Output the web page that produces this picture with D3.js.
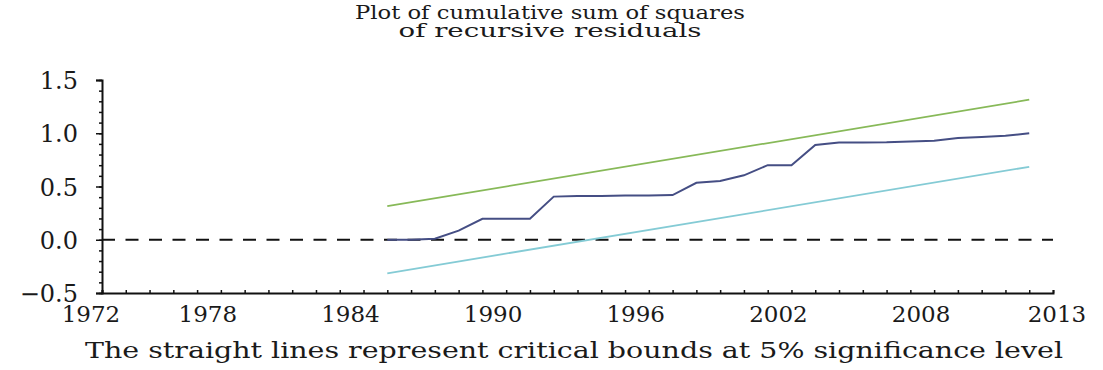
<!DOCTYPE html>
<html>
<head>
<meta charset="utf-8">
<script src="https://cdn.jsdelivr.net/npm/d3@7"></script>
<style>
  html, body { margin: 0; padding: 0; background: #fff; }
  svg { display: block; }
  svg text, svg tspan { font-family: "DejaVu Serif", "Liberation Serif", serif; fill: #1a1a1a; }
</style>
</head>
<body>
<svg id="chart" width="1103" height="370"></svg>
<script>
// CUSUM of squares of recursive residuals, annual observations
const years = [1986, 1987, 1988, 1989, 1990, 1991, 1992, 1993, 1994, 1995,
               1996, 1997, 1998, 1999, 2000, 2001, 2002, 2003, 2004, 2005,
               2006, 2007, 2008, 2009, 2010, 2011, 2012, 2013];
const cusumsq = [0.00, 0.00, 0.01, 0.085, 0.197, 0.197, 0.197, 0.405, 0.41, 0.41,
                 0.415, 0.415, 0.42, 0.535, 0.552, 0.605, 0.70, 0.70, 0.89, 0.912,
                 0.914, 0.915, 0.922, 0.93, 0.955, 0.964, 0.976, 1.00];

// 5% critical bounds (straight lines between the first and last observation)
const boundYears = [1986, 2013];
const upperBound = [0.315, 1.315];
const lowerBound = [-0.315, 0.685];

// Axis labels
const xTickLabels = [1972, 1978, 1984, 1990, 1996, 2002, 2008, 2013];
const yTickValues = [-0.5, 0.0, 0.5, 1.0, 1.5];
const yMinorValues = d3.range(-5, 16).map(i => i / 10);
const titleLines = ["Plot of cumulative sum of squares", "of recursive residuals"];
const caption = "The straight lines represent critical bounds at 5% significance level";

const svg = d3.select("#chart");
const W = 1103, H = 370;
svg.append("rect").attr("width", W).attr("height", H).attr("fill", "#fff");

const x = d3.scaleLinear().domain([1974, 2014]).range([102, 1053]);
const y = d3.scaleLinear().domain([-0.5, 1.5]).range([293, 80]);

// Title: two centred lines, set wide like the rest of the lettering
const titleWidths = [390, 303];
svg.append("g").selectAll("text").data(titleLines).join("text")
  .attr("x", 550).attr("y", (d, i) => 19 + i * 18)
  .attr("text-anchor", "middle")
  .attr("textLength", (d, i) => titleWidths[i])
  .attr("lengthAdjust", "spacingAndGlyphs")
  .style("font-size", "19px")
  .text(d => d);

// Zero reference line
svg.append("line")
  .attr("x1", x(1974)).attr("x2", x(2014))
  .attr("y1", y(0)).attr("y2", y(0))
  .attr("stroke", "#111").attr("stroke-width", 2)
  .attr("stroke-dasharray", "13,10.5");

// Bounds
const line = d3.line().x(d => x(d[0])).y(d => y(d[1]));
svg.append("path")
  .datum(d3.zip(boundYears, upperBound))
  .attr("d", line).attr("fill", "none")
  .attr("stroke", "#87b958").attr("stroke-width", 1.8);
svg.append("path")
  .datum(d3.zip(boundYears, lowerBound))
  .attr("d", line).attr("fill", "none")
  .attr("stroke", "#84cbd5").attr("stroke-width", 1.8);

// CUSUM of squares
svg.append("path")
  .datum(d3.zip(years, cusumsq))
  .attr("d", line).attr("fill", "none")
  .attr("stroke", "#454e84").attr("stroke-width", 2);

// Y axis
const yAxis = svg.append("g").attr("transform", `translate(${x(1974)},0)`);
yAxis.call(d3.axisLeft(y).tickValues(yMinorValues).tickSize(3).tickFormat(""))
  .call(g => g.select(".domain").remove());
yAxis.append("g")
  .call(d3.axisLeft(y).tickValues(yTickValues).tickSize(6).tickPadding(18)
        .tickFormat(d => d3.format(".1f")(d).replace("-", "\u2212")))
  .call(g => g.select(".domain").attr("stroke-width", 2))
  .call(g => g.selectAll("text").style("font-size", "24px")
        .attr("font-family", null).attr("dy", "0.36em"));
yAxis.selectAll("line").attr("stroke", "#111").attr("stroke-width", 1.5);
yAxis.selectAll(".domain").attr("stroke", "#111");

// X axis: yearly ticks pointing inward, labels centred in their year;
// the first and last labels sit at the two ends of the axis
const xAxis = svg.append("g").attr("transform", `translate(0,${y(-0.5)})`);
xAxis.call(d3.axisBottom(x).tickValues(d3.range(1974, 2015)).tickSize(-3).tickFormat(""))
  .call(g => g.select(".domain").attr("stroke-width", 2).attr("stroke", "#111"))
  .call(g => g.selectAll(".tick line").attr("stroke", "#111").attr("stroke-width", 1.5));

const [x0, x1] = x.range();
const nLab = xTickLabels.length;
const labelX = (d, i) => i === 0 ? x0 - 11 : i === nLab - 1 ? x1 + 4 : x(d + 0.45);
xAxis.selectAll("text.year").data(xTickLabels).join("text")
  .attr("class", "year")
  .attr("x", labelX).attr("y", 29)
  .attr("text-anchor", "middle")
  .style("font-size", "23px")
  .text(d => d);

// Caption
svg.append("text")
  .attr("x", 574).attr("y", 358)
  .attr("text-anchor", "middle")
  .attr("textLength", 978)
  .attr("lengthAdjust", "spacingAndGlyphs")
  .style("font-size", "23px")
  .text(caption);
</script>
</body>
</html>
